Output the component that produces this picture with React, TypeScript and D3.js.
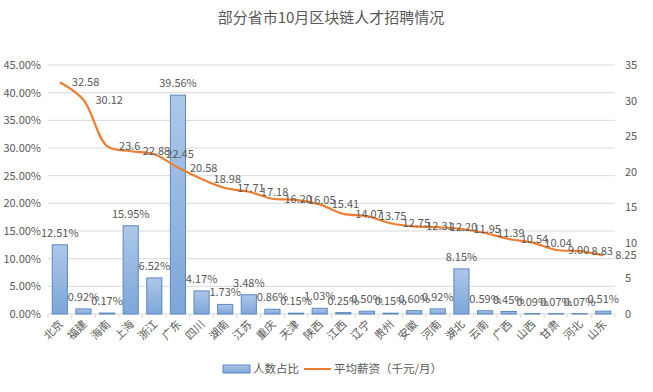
import { useEffect, useRef } from "react";
import * as d3 from "d3";

const provinces = ["北京", "福建", "海南", "上海", "浙江", "广东", "四川", "湖南", "江苏", "重庆", "天津", "陕西", "江西", "辽宁", "贵州", "安徽", "河南", "湖北", "云南", "广西", "山西", "甘肃", "河北", "山东"];
const sharePct = [12.51, 0.92, 0.17, 15.95, 6.52, 39.56, 4.17, 1.73, 3.48, 0.86, 0.15, 1.03, 0.25, 0.5, 0.15, 0.6, 0.92, 8.15, 0.59, 0.45, 0.09, 0.07, 0.07, 0.51];
const salary = [32.58, 30.12, 23.6, 22.88, 22.45, 20.58, 18.98, 17.71, 17.18, 16.2, 16.05, 15.41, 14.07, 13.75, 12.75, 12.31, 12.2, 11.95, 11.39, 10.54, 10.04, 9.0, 8.83, 8.25];
const salaryLabels = ["32.58", "30.12", "23.6", "22.88", "22.45", "20.58", "18.98", "17.71", "17.18", "16.20", "16.05", "15.41", "14.07", "13.75", "12.75", "12.31", "12.20", "11.95", "11.39", "10.54", "10.04", "9.00", "8.83", "8.25"];
const leftTicks = [0, 5, 10, 15, 20, 25, 30, 35, 40, 45];
const rightTicks = [0, 5, 10, 15, 20, 25, 30, 35];

const W = 653;
const H = 392;
const FONT = "'Noto Sans CJK SC', 'Microsoft YaHei', sans-serif";
const TXT = "#595959";

const App = () => {
  const ref = useRef<SVGSVGElement>(null);

  useEffect(() => {
    const svg = d3.select(ref.current);
    svg.selectAll("*").remove();

    const left = 48, right = 615, top = 65, bottom = 314;

    const x = d3.scaleBand().domain(provinces).range([left, right]).paddingInner(0.36).paddingOuter(0.18);
    const yL = d3.scaleLinear().domain([0, 45]).range([bottom, top]);
    const yR = d3.scaleLinear().domain([0, 35]).range([bottom, top]);
    const cx = (i: number) => (x(provinces[i]) as number) + x.bandwidth() / 2;
    const slot = (right - left) / provinces.length;

    const defs = svg.append("defs");
    const grad = defs.append("linearGradient").attr("id", "barGrad").attr("x1", 0).attr("y1", 0).attr("x2", 0).attr("y2", 1);
    grad.append("stop").attr("offset", "0%").attr("stop-color", "#aec7e8");
    grad.append("stop").attr("offset", "100%").attr("stop-color", "#7ea6d9");

    // title
    svg.append("text").attr("x", 331).attr("y", 23).attr("text-anchor", "middle")
      .attr("font-family", FONT).attr("font-size", 15).attr("fill", TXT)
      .text("部分省市10月区块链人才招聘情况");

    // gridlines
    svg.append("g").selectAll("line").data(leftTicks).join("line")
      .attr("x1", left).attr("x2", right)
      .attr("y1", (d) => yL(d)).attr("y2", (d) => yL(d))
      .attr("stroke", "#d9d9d9").attr("stroke-width", 1);

    // category tick marks
    svg.append("g").selectAll("line").data(d3.range(provinces.length + 1)).join("line")
      .attr("x1", (i) => left + i * slot)
      .attr("x2", (i) => left + i * slot)
      .attr("y1", bottom).attr("y2", bottom + 4)
      .attr("stroke", "#d9d9d9");

    // left axis labels
    svg.append("g").selectAll("text").data(leftTicks).join("text")
      .attr("x", 41).attr("y", (d) => yL(d) + 4)
      .attr("text-anchor", "end").attr("font-family", FONT).attr("font-size", 11).attr("fill", TXT)
      .text((d) => d.toFixed(2) + "%");

    // right axis labels
    svg.append("g").selectAll("text").data(rightTicks).join("text")
      .attr("x", 625).attr("y", (d) => yR(d) + 4)
      .attr("font-family", FONT).attr("font-size", 11).attr("fill", TXT)
      .text((d) => String(d));

    // bars
    svg.append("g").selectAll("rect").data(sharePct).join("rect")
      .attr("x", (_, i) => x(provinces[i]) as number)
      .attr("y", (d) => yL(d))
      .attr("width", x.bandwidth())
      .attr("height", (d) => bottom - yL(d))
      .attr("fill", "url(#barGrad)")
      .attr("stroke", "#5b87c0").attr("stroke-width", 1);

    // bar labels
    svg.append("g").selectAll("text").data(sharePct).join("text")
      .attr("x", (_, i) => cx(i))
      .attr("y", (d) => yL(d) - 8)
      .attr("text-anchor", "middle").attr("font-family", FONT).attr("font-size", 11).attr("fill", TXT)
      .text((d) => d.toFixed(2) + "%");

    // salary line
    const line = d3.line<number>().x((_, i) => cx(i)).y((d) => yR(d)).curve(d3.curveCatmullRom.alpha(0.5));
    svg.append("path").datum(salary).attr("d", line)
      .attr("fill", "none").attr("stroke", "#ed7d31").attr("stroke-width", 2.2);

    // salary labels
    svg.append("g").selectAll("text").data(salary).join("text")
      .attr("x", (_, i) => cx(i) + 12)
      .attr("y", (d) => yR(d) + 4)
      .attr("font-family", FONT).attr("font-size", 11).attr("fill", TXT)
      .text((_, i) => salaryLabels[i]);

    // x labels
    svg.append("g").selectAll("text").data(provinces).join("text")
      .attr("transform", (_, i) => `translate(${cx(i) + 4},${bottom + 11}) rotate(-45)`)
      .attr("text-anchor", "end").attr("font-family", FONT).attr("font-size", 11).attr("fill", TXT)
      .text((d) => d);

    // legend
    const lg = svg.append("g").attr("transform", "translate(0,369)");
    lg.append("rect").attr("x", 223).attr("y", -4).attr("width", 27).attr("height", 8)
      .attr("fill", "url(#barGrad)").attr("stroke", "#5b87c0");
    lg.append("text").attr("x", 253).attr("y", 4).attr("font-family", FONT).attr("font-size", 11.5).attr("fill", TXT).text("人数占比");
    lg.append("line").attr("x1", 304).attr("x2", 331).attr("y1", 0).attr("y2", 0).attr("stroke", "#ed7d31").attr("stroke-width", 2);
    lg.append("text").attr("x", 334).attr("y", 4).attr("font-family", FONT).attr("font-size", 11.5).attr("fill", TXT).text("平均薪资（千元/月）");
  }, []);

  return (
    <svg ref={ref} width={W} height={H} style={{ position: "absolute", left: 0, top: 0, background: "#fff" }} />
  );
};

export default App;
